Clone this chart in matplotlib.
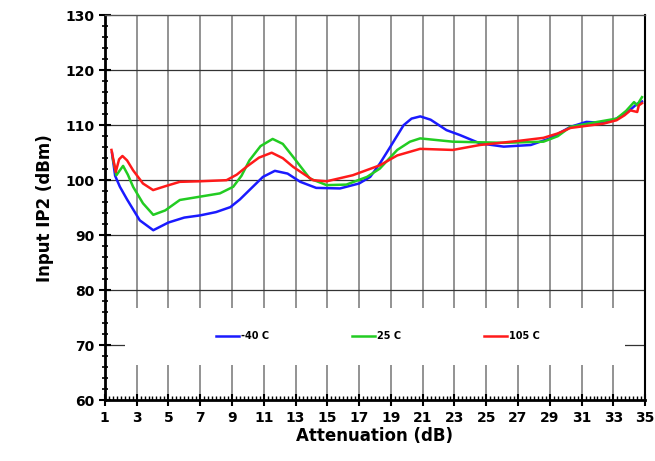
import numpy as np
import matplotlib.pyplot as plt
from matplotlib.patches import Rectangle
from matplotlib.ticker import MultipleLocator

# values
x_m40 = [1.45, 1.65, 1.95, 2.4, 3.2, 4.05, 5.0, 6.0, 7.0, 8.0, 8.9, 9.5, 10.1, 10.95, 11.7,
         12.5, 13.3, 14.3, 15.8, 17.0, 17.7, 18.3, 18.95, 19.8, 20.3, 20.85, 21.5, 22.5,
         23.35, 24.6, 26.1, 27.8, 29.0, 30.3, 31.3, 32.4, 33.2, 33.9, 34.5, 34.8]
y_m40 = [105.0, 100.8, 98.8, 96.5, 92.7, 90.9, 92.3, 93.2, 93.6, 94.2, 95.1, 96.5, 98.2, 100.6, 101.7,
         101.2, 99.7, 98.6, 98.5, 99.4, 100.6, 103.0, 106.0, 110.0, 111.2, 111.6, 111.0, 109.1,
         108.2, 106.7, 106.1, 106.4, 107.6, 109.7, 110.6, 110.4, 111.2, 112.4, 113.9, 114.3]

x_25 = [1.5, 1.73, 1.9, 2.15, 2.45, 2.78, 3.4, 4.05, 4.8, 5.72, 6.98, 8.24, 9.08, 9.6, 10.1,
        10.8, 11.56, 12.2, 12.86, 13.9, 14.96, 16.2, 17.5, 18.3, 19.4, 20.2, 20.84, 22.9,
        24.5, 26.1, 28.6, 29.5, 30.3, 32.0, 33.2, 33.8, 34.3, 34.5, 34.65, 34.8]
y_25 = [104.0, 100.9, 101.6, 102.6, 101.0, 98.8, 95.8, 93.7, 94.5, 96.4, 97.0, 97.6, 98.8, 100.8, 103.6,
        106.2, 107.5, 106.6, 104.2, 100.3, 99.1, 99.2, 100.6, 102.1, 105.5, 107.0, 107.6, 107.0,
        106.9, 106.8, 107.0, 108.0, 109.7, 110.6, 111.2, 112.6, 114.2, 113.6, 114.4, 115.1]

x_105 = [1.42, 1.69, 1.9, 2.11, 2.4, 2.78, 3.4, 4.04, 4.8, 5.72, 6.98, 8.66, 9.3, 9.9, 10.7,
         11.5, 12.2, 12.86, 14.1, 14.96, 16.6, 18.3, 19.4, 20.84, 22.9, 24.6, 26.9, 28.6,
         29.5, 30.3, 32.4, 33.2, 33.7, 34.07, 34.5, 34.6, 34.8]
y_105 = [105.5, 101.5, 103.8, 104.4, 103.6, 101.8, 99.4, 98.2, 98.9, 99.7, 99.8, 100.0, 101.0, 102.4, 104.1,
         105.0, 104.0, 102.4, 100.0, 99.8, 100.9, 102.7, 104.5, 105.7, 105.5, 106.4, 107.1, 107.7,
         108.5, 109.5, 110.3, 110.9, 111.8, 112.7, 112.4, 113.6, 114.0]

xticks = list(range(1, 36, 2))

fig = plt.figure(figsize=(6.55, 4.61), dpi=100)
ax = fig.add_axes([0.160, 0.132, 0.825, 0.835])

ax.set_xlim(1, 35)
ax.set_ylim(60, 130)

# grid
for gx in xticks[1:-1]:
    ax.axvline(gx, color='#808080', lw=1.2, zorder=1)
for gy in range(70, 130, 10):
    ax.axhline(gy, color='#333333', lw=0.9, zorder=1)

# white legend box covering the grid
ax.add_patch(Rectangle((0.037, 0.091), 0.926, 0.148, transform=ax.transAxes,
                       facecolor='white', edgecolor='none', zorder=2))

ax.plot(x_m40, y_m40, color='#1a1aff', lw=1.8, label='-40 C', zorder=3)
ax.plot(x_25, y_25, color='#22cc22', lw=1.8, label='25 C', zorder=3)
ax.plot(x_105, y_105, color='#ff1a1a', lw=1.8, label='105 C', zorder=3)

ax.set_xticks(xticks)
ax.xaxis.set_minor_locator(MultipleLocator(0.25))
ax.yaxis.set_major_locator(MultipleLocator(10))
ax.yaxis.set_minor_locator(MultipleLocator(2))
ax.tick_params(axis='both', which='major', direction='inout', length=8, width=1.5,
               labelsize=10)
ax.tick_params(axis='y', which='minor', direction='inout', length=5, width=1.2)
ax.tick_params(axis='x', which='minor', direction='in', length=3, width=1.0)
for lab in ax.get_xticklabels() + ax.get_yticklabels():
    lab.set_fontweight('bold')

ax.spines['left'].set_linewidth(2)
ax.spines['bottom'].set_linewidth(2)
ax.spines['right'].set_linewidth(1.5)
ax.spines['top'].set_linewidth(1.0)
ax.spines['top'].set_color('#555555')
for s in ax.spines.values():
    s.set_zorder(4)

ax.set_xlabel('Attenuation (dB)', fontsize=12, fontweight='bold', labelpad=2)
ax.set_ylabel('Input IP2 (dBm)', fontsize=12, fontweight='bold', labelpad=8)

leg = ax.legend(loc='center', bbox_to_anchor=(0.505, 0.166), ncol=3, frameon=False,
                prop={'size': 7, 'weight': 'bold'}, handlelength=2.4, handletextpad=0.2,
                columnspacing=8.5)
leg.set_zorder(5)

fig.savefig('out.png', dpi=100)
